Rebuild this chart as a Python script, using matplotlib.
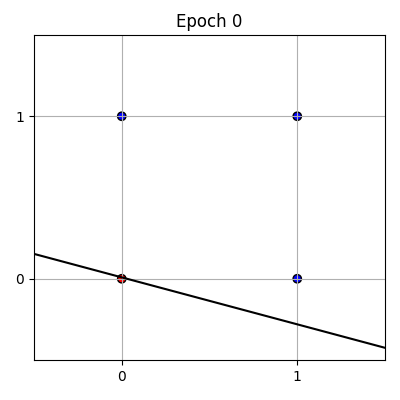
import matplotlib
matplotlib.use("Agg")
import matplotlib.pyplot as plt
import numpy as np

xs = [0, 0, 1, 1]
ys = [0, 1, 0, 1]
colors = ["red", "blue", "blue", "blue"]
line_x = [-0.5, 1.5]
line_y = [0.153, -0.425]
ticks = [0, 1]
title = "Epoch 0"

fig = plt.figure(figsize=(4, 4), dpi=100)
ax = fig.add_axes([0.085, 0.1, 0.8775, 0.8125])
ax.scatter(xs, ys, c=colors, edgecolors="black", s=36)
ax.plot(line_x, line_y, color="black", lw=1.5)
ax.set_xlim(-0.5, 1.5)
ax.set_ylim(-0.5, 1.5)
ax.set_xticks(ticks)
ax.set_yticks(ticks)
ax.grid(True)
ax.set_title(title)
fig.savefig("out.png", dpi=100)
